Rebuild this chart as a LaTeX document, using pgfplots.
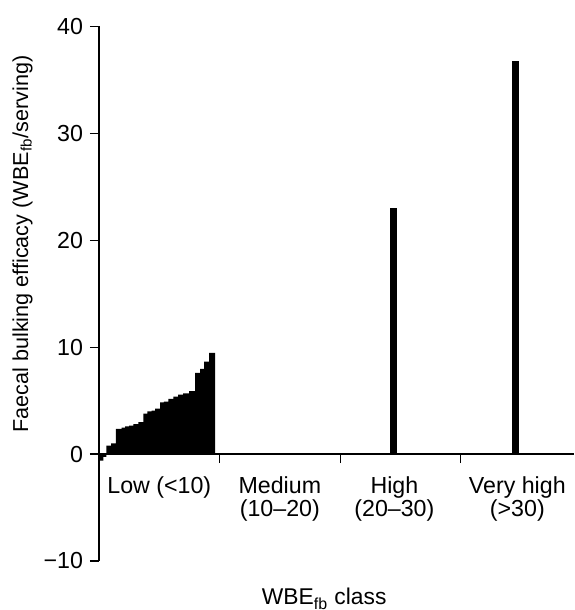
\documentclass[border=0pt]{standalone}
\usepackage{fontspec}
\setmainfont{Liberation Sans}
\usepackage{pgfplots}
\pgfplotsset{compat=1.18}
\begin{document}
\begin{tikzpicture}
\useasboundingbox (-49.5pt,-24.5pt) rectangle (237.5pt,280.5pt);
\begin{axis}[
  at={(0,0)}, anchor=south west,
  scale only axis,
  width=237.5pt, height=267.25pt,
  xmin=0, xmax=3.94,
  ymin=-10, ymax=40,
  axis x line=middle,
  axis y line=left,
  hide obscured x ticks=false,
  hide obscured y ticks=false,
  axis line style={-, line width=0.6pt, black},
  ytick={-10,0,10,20,30,40},
  yticklabels={−10,0,10,20,30,40},
  xtick={1,2,3},
  xticklabels={},
  extra x ticks={0.5,1.5,2.45,3.47},
  extra x tick labels={Low (<10), {Medium\\(10--20)}, {High\\(20--30)}, {Very high\\(>30)}},
  extra x tick style={major tick length=0pt, tick label style={align=center, anchor=north, inner sep=0pt, yshift=-11pt, font=\fontsize{11.6}{11.7}\selectfont}},
  tick align=outside,
  major tick length=4.5pt,
  tick style={black, line width=0.6pt},
  tick label style={font=\fontsize{11.6}{13}\selectfont},
  xlabel={WBE\textsubscript{fb} class},
  xlabel style={at={(axis description cs:0.474,0)}, anchor=base, inner sep=0pt, yshift=-22pt, font=\fontsize{11.4}{13}\selectfont},
  ylabel={Faecal bulking efficacy (WBE\textsubscript{fb}/serving)},
  ylabel style={at={(axis description cs:-0.161,0.593)}, anchor=center, inner sep=0pt, font=\fontsize{10.8}{13}\selectfont},
  clip=false,
]
% Low class: individual foods, sorted ascending
\addplot[ybar interval, fill=black, draw=none] coordinates {
 (0.000,-0.60) (0.037,-0.25) (0.062,0.80) (0.100,1.00) (0.141,2.35)
 (0.187,2.48) (0.216,2.60) (0.249,2.66) (0.285,2.80) (0.326,3.00)
 (0.368,3.79) (0.401,4.00) (0.437,4.07) (0.465,4.25) (0.506,4.85)
 (0.539,4.92) (0.575,5.17) (0.617,5.38) (0.656,5.56) (0.697,5.68)
 (0.747,5.90) (0.797,7.60) (0.838,7.98) (0.871,8.65) (0.913,9.46)
 (0.963,9.46)
};
% High class
\addplot[ybar interval, fill=black, draw=none] coordinates {(2.415,23.0) (2.470,23.0)};
% Very high class
\addplot[ybar interval, fill=black, draw=none] coordinates {(3.425,36.8) (3.480,36.8)};
\end{axis}
\end{tikzpicture}
\end{document}
